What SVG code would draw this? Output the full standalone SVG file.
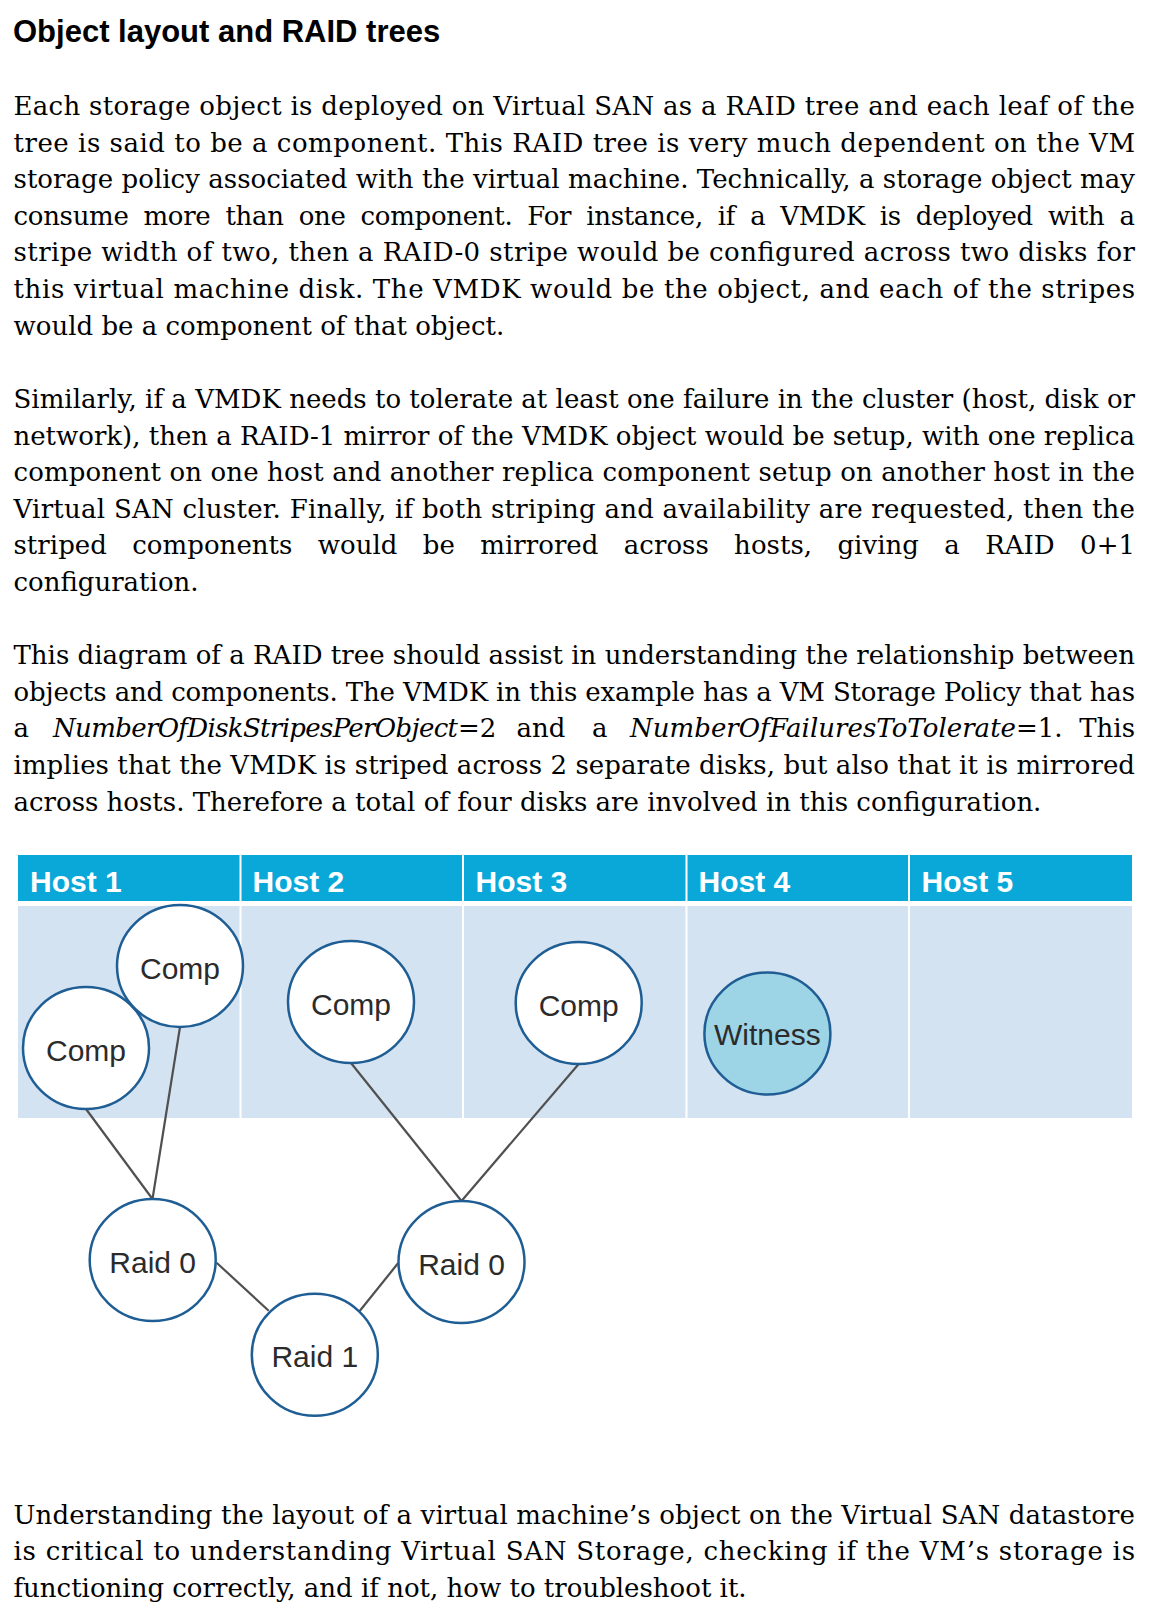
<svg xmlns="http://www.w3.org/2000/svg" width="1149" height="1622" viewBox="0 0 1149 1622">
<style>
.t{font-family:"DejaVu Serif","Liberation Serif",serif;font-size:26px;fill:#000}
.i{font-style:italic}
.title{font-family:"Liberation Sans",Arial,sans-serif;font-weight:bold;font-size:31px;fill:#000}
.hdr{fill:#0aa8d9}
.lane{fill:#d4e3f1}
.hl{font-family:"Liberation Sans",Arial,sans-serif;font-weight:bold;font-size:30px;fill:#fff}
.node{fill:#fff;stroke:#1f5e94;stroke-width:2.5}
.wit{fill:#9dd4e6}
.nl{font-family:"Liberation Sans",Arial,sans-serif;font-size:30px;fill:#2b2b2b;text-anchor:middle}
.conn line{stroke:#505050;stroke-width:2.2}
</style>
<rect width="1149" height="1622" fill="#fff"/>
<text class="title" x="13" y="42">Object layout and RAID trees</text>

<g id="para1">
<text class="t" x="13.5" y="115" textLength="1121.5" lengthAdjust="spacing">Each storage object is deployed on Virtual SAN as a RAID tree and each leaf of the</text>
<text class="t" x="13.5" y="151.6" textLength="1121.5" lengthAdjust="spacing">tree is said to be a component. This RAID tree is very much dependent on the VM</text>
<text class="t" x="13.5" y="188.2" textLength="1121.5" lengthAdjust="spacing">storage policy associated with the virtual machine. Technically, a storage object may</text>
<text class="t" x="13.5" y="224.8" textLength="1121.5" lengthAdjust="spacing" word-spacing="7">consume more than one component. For instance, if a VMDK is deployed with a</text>
<text class="t" x="13.5" y="261.4" textLength="1121.5" lengthAdjust="spacing">stripe width of two, then a RAID-0 stripe would be configured across two disks for</text>
<text class="t" x="13.5" y="298" textLength="1121.5" lengthAdjust="spacing">this virtual machine disk. The VMDK would be the object, and each of the stripes</text>
<text class="t" x="13.5" y="334.6">would be a component of that object.</text>
</g>

<g id="para2">
<text class="t" x="13.5" y="408" textLength="1121.5" lengthAdjust="spacing">Similarly, if a VMDK needs to tolerate at least one failure in the cluster (host, disk or</text>
<text class="t" x="13.5" y="444.6" textLength="1121.5" lengthAdjust="spacing">network), then a RAID-1 mirror of the VMDK object would be setup, with one replica</text>
<text class="t" x="13.5" y="481.2" textLength="1121.5" lengthAdjust="spacing">component on one host and another replica component setup on another host in the</text>
<text class="t" x="13.5" y="517.8" textLength="1121.5" lengthAdjust="spacing">Virtual SAN cluster. Finally, if both striping and availability are requested, then the</text>
<text class="t" x="13.5" y="554.4" textLength="1121.5" lengthAdjust="spacing" word-spacing="17">striped components would be mirrored across hosts, giving a RAID 0+1</text>
<text class="t" x="13.5" y="591">configuration.</text>
</g>

<g id="para3">
<text class="t" x="13.5" y="664.2" textLength="1121.5" lengthAdjust="spacing">This diagram of a RAID tree should assist in understanding the relationship between</text>
<text class="t" x="13.5" y="700.8" textLength="1121.5" lengthAdjust="spacing">objects and components. The VMDK in this example has a VM Storage Policy that has</text>
<text class="t" x="13.5" y="737.4">a</text>
<text class="t i" x="53" y="737.4" textLength="405" lengthAdjust="spacing">NumberOfDiskStripesPerObject</text>
<text class="t" x="458" y="737.4">=2</text>
<text class="t" x="541" y="737.4" text-anchor="middle">and</text>
<text class="t" x="592" y="737.4">a</text>
<text class="t i" x="630" y="737.4" textLength="386" lengthAdjust="spacing">NumberOfFailuresToTolerate</text>
<text class="t" x="1016" y="737.4">=1.</text>
<text class="t" x="1135" y="737.4" text-anchor="end">This</text>
<text class="t" x="13.5" y="774" textLength="1121.5" lengthAdjust="spacing">implies that the VMDK is striped across 2 separate disks, but also that it is mirrored</text>
<text class="t" x="13.5" y="810.6">across hosts. Therefore a total of four disks are involved in this configuration.</text>
</g>

<g id="hosts">
<rect class="hdr" x="18" y="855" width="1114" height="46"/>
<rect class="lane" x="18" y="906" width="1114" height="212"/>
<g fill="#fff">
<rect x="239.5" y="855" width="2" height="263"/>
<rect x="462" y="855" width="2" height="263"/>
<rect x="685.5" y="855" width="2" height="263"/>
<rect x="908" y="855" width="2" height="263"/>
</g>
<text class="hl" x="30" y="892">Host 1</text>
<text class="hl" x="252.5" y="892">Host 2</text>
<text class="hl" x="475.5" y="892">Host 3</text>
<text class="hl" x="698.5" y="892">Host 4</text>
<text class="hl" x="921.5" y="892">Host 5</text>
</g>

<g id="connectors" class="conn">
<line x1="86" y1="1109" x2="152.5" y2="1199"/>
<line x1="180" y1="1027" x2="152.5" y2="1199"/>
<line x1="351" y1="1063" x2="461.5" y2="1201"/>
<line x1="578.7" y1="1064" x2="461.5" y2="1201"/>
<line x1="216.6" y1="1262.7" x2="268.7" y2="1310.7"/>
<line x1="359.7" y1="1311" x2="398" y2="1263.3"/>
</g>

<g id="comp-h1a"><ellipse class="node" cx="180" cy="966" rx="63" ry="61"/><text class="nl" x="180" y="978.5">Comp</text></g>
<g id="comp-h1b"><ellipse class="node" cx="86" cy="1048" rx="63" ry="61"/><text class="nl" x="86" y="1060.5">Comp</text></g>
<g id="comp-h2"><ellipse class="node" cx="351" cy="1002" rx="63" ry="61"/><text class="nl" x="351" y="1014.5">Comp</text></g>
<g id="comp-h3"><ellipse class="node" cx="578.7" cy="1003" rx="63" ry="61"/><text class="nl" x="578.7" y="1015.5">Comp</text></g>
<g id="witness"><ellipse class="node wit" cx="767.4" cy="1033.5" rx="63" ry="61"/><text class="nl" x="767.4" y="1045">Witness</text></g>
<g id="raid0-left"><ellipse class="node" cx="152.7" cy="1260" rx="63" ry="61"/><text class="nl" x="152.7" y="1272.5">Raid 0</text></g>
<g id="raid0-right"><ellipse class="node" cx="461.5" cy="1262" rx="63" ry="61"/><text class="nl" x="461.5" y="1274.5">Raid 0</text></g>
<g id="raid1"><ellipse class="node" cx="314.8" cy="1354.7" rx="63" ry="61"/><text class="nl" x="314.8" y="1367">Raid 1</text></g>

<g id="para4">
<text class="t" x="13.5" y="1523.5" textLength="1121.5" lengthAdjust="spacing">Understanding the layout of a virtual machine’s object on the Virtual SAN datastore</text>
<text class="t" x="13.5" y="1560" textLength="1121.5" lengthAdjust="spacing">is critical to understanding Virtual SAN Storage, checking if the VM’s storage is</text>
<text class="t" x="13.5" y="1596.5">functioning correctly, and if not, how to troubleshoot it.</text>
</g>
</svg>
